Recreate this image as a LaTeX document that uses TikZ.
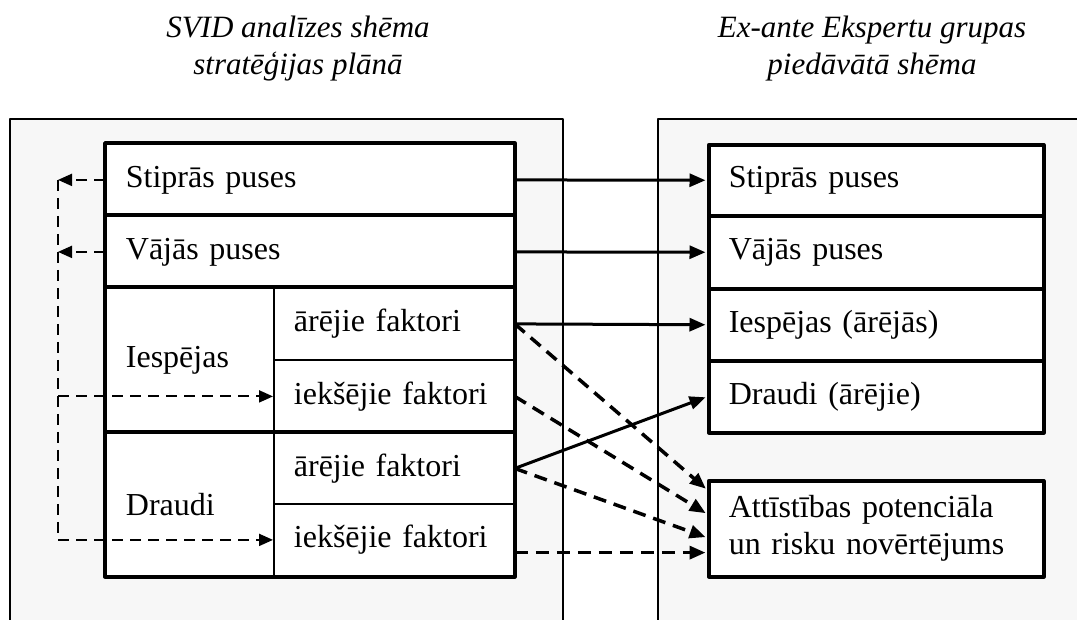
\documentclass[tikz,border=0pt]{standalone}
\usepackage{fontspec}
\setmainfont{Liberation Serif}
\usetikzlibrary{arrows.meta}
\definecolor{panelgray}{HTML}{F7F7F7}
\tikzset{
	cell/.style={draw,fill=white,line width=1.8pt,anchor=north west,text width=#1,align=left,inner xsep=20pt,inner ysep=0pt},
	rcell/.style={cell=#1,line width=3.5pt},
	frame/.style={line width=3.5pt},
	panel/.style={draw,fill=panelgray,line width=1.8pt},
	title/.style={font=\itshape\fontsize{31}{37}\selectfont,align=center},
	sarrow/.style={->,line width=3pt,shorten >=1.5pt},
	darrow/.style={->,line width=3.5pt,dash pattern=on 13pt off 8pt,shorten >=1.5pt},
	dthin/.style={line width=2pt,dash pattern=on 11pt off 7pt,-{Triangle[length=14pt,width=12pt]}}
}
\begin{document}
\begin{tikzpicture}[>={Triangle[length=16pt,width=13pt]},line join=round,x=1pt,y=-1pt,font=\fontsize{32}{37}\selectfont]
	\useasboundingbox (0,0) rectangle (1077,619);
	\clip (0,0) rectangle (1077,619);
	%Virsraksti
	\node[title] (ltitle) at (298,49) {SVID analīzes shēma\\stratēģijas plānā};
	\node[title] (rtitle) at (872,49) {Ex-ante Ekspertu grupas\\piedāvātā shēma};
	%Fons
	\path[panel] (10,119) rectangle (563,660);
	\path[panel] (658,119) rectangle (1100,660);
	%SVID tabula
	\node[cell=368pt,minimum height=72pt] (sp) at (105,143) {Stiprās puses};
	\node[cell=368pt,minimum height=72pt] (vp) at (105,215) {Vājās puses};
	\node[cell=128pt,minimum height=145pt] (ie) at (105,287) {Iespējas};
	\node[cell=200pt,minimum height=72pt] (iea) at (273,287) {ārējie faktori};
	\node[cell=200pt,minimum height=73pt] (iei) at (273,359) {iekšējie faktori};
	\node[cell=128pt,minimum height=143pt] (dr) at (105,432) {Draudi};
	\node[cell=200pt,minimum height=71pt] (dra) at (273,432) {ārējie faktori};
	\node[cell=200pt,minimum height=72pt] (dri) at (273,503) {iekšējie faktori};
	\draw[frame] (sp.north west) rectangle (dri.south east);
	\draw[frame] (vp.north west)--(vp.north east)
		(ie.north west)--(iea.north east)
		(dr.north west)--(dra.north east);
	%Ex-ante tabula
	\node[rcell=295pt,minimum height=71pt] (rsp) at (707,143) {Stiprās puses};
	\node[rcell=295pt,minimum height=73pt] (rvp) at (707,214) {Vājās puses};
	\node[rcell=295pt,minimum height=72pt] (rie) at (707,287) {Iespējas (ārējās)};
	\node[rcell=295pt,minimum height=72pt] (rdr) at (707,359) {Draudi (ārējie)};
	\node[rcell=295pt,minimum height=96pt] (att) at (707,479) {Attīstības potenciāla\\un risku novērtējums};
	%Kreisās bultas
	\coordinate (bus) at (58,0);
	\draw[dthin] (sp.west)--(sp.west -| bus);
	\draw[dthin] (vp.west)--(vp.west -| bus);
	\draw[dthin] (sp.west -| bus)--(dri.west -| bus)--(dri.west);
	\draw[dthin] (iei.west -| bus)--(iei.west);
	%Labās bultas
	\draw[sarrow] (sp.east)--(rsp.west);
	\draw[sarrow] (vp.east)--(rvp.west);
	\draw[sarrow] (iea.east)--(rie.west);
	\draw[sarrow] (dra.east)--(rdr.west);
	\draw[darrow] (iea.east)--(att.167);
	\draw[darrow] (iei.east)--(att.175);
	\draw[darrow] (dra.east)--(att.183);
	\draw[darrow] (dri.-6)--(dri.-6 -| att.west);
\end{tikzpicture}
\end{document}
